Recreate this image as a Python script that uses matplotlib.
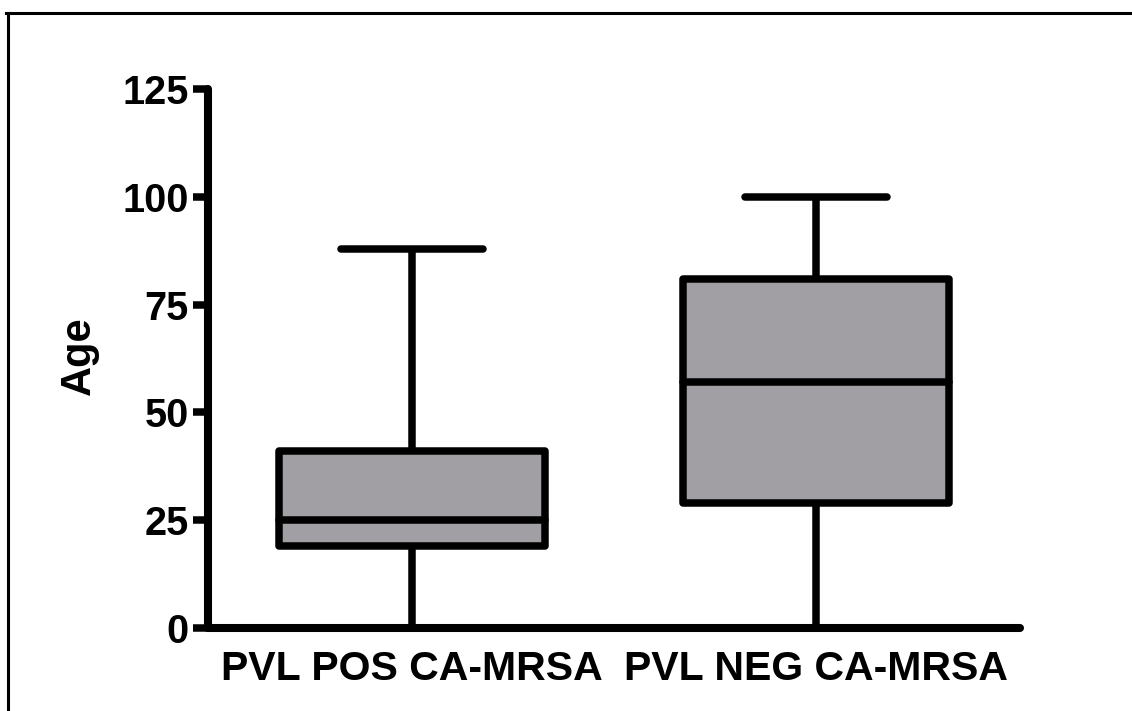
import matplotlib
matplotlib.use("Agg")
import matplotlib.pyplot as plt
from matplotlib.lines import Line2D

plt.rcParams['font.family'] = ['Liberation Sans', 'DejaVu Sans']
plt.rcParams['font.weight'] = 'bold'

# Age distribution summary for each group
groups = ["PVL POS CA-MRSA", "PVL NEG CA-MRSA"]
whisker_low = [0, 0]
q1 = [19, 29]
median = [25, 57]
q3 = [41, 81]
whisker_high = [88, 100]

y_ticks = [0, 25, 50, 75, 100, 125]

fig = plt.figure(figsize=(11.32, 7.11), dpi=100)
ax = fig.add_axes([208 / 1132, 1 - 628 / 711, (1020 - 208) / 1132, (628 - 89) / 711])

stats = []
for i, name in enumerate(groups):
    stats.append(dict(label=name, whislo=whisker_low[i], q1=q1[i], med=median[i],
                      q3=q3[i], whishi=whisker_high[i], fliers=[]))

lw = 5.4
box_fill = '#a19fa4'
bp = ax.bxp(stats, positions=[1, 2], widths=0.66, capwidths=0.35,
            patch_artist=True, showfliers=False,
            boxprops=dict(facecolor=box_fill, edgecolor='black', linewidth=lw,
                          joinstyle='round'),
            medianprops=dict(color='black', linewidth=lw, solid_capstyle='round'),
            whiskerprops=dict(color='black', linewidth=lw, solid_capstyle='butt'),
            capprops=dict(color='black', linewidth=lw, solid_capstyle='round'))
for key in ('whiskers', 'caps', 'medians', 'boxes'):
    for artist in bp[key]:
        artist.set_clip_on(False)

ax.set_xlim(0.495, 2.505)
ax.set_ylim(0, 125)
ax.set_yticks(y_ticks)
ax.set_yticklabels([str(v) for v in y_ticks])
ax.set_xticks([1, 2])
ax.set_xticklabels(groups)

for side in ('top', 'right'):
    ax.spines[side].set_visible(False)
for side in ('left', 'bottom'):
    ax.spines[side].set_linewidth(5.8)
    ax.spines[side].set_capstyle('round')

ax.tick_params(axis='y', direction='out', length=10.5, width=5.4, pad=3.5,
               labelsize=28.5)
ax.tick_params(axis='x', length=0, pad=16, labelsize=29.5)
for lab in ax.get_xticklabels() + ax.get_yticklabels():
    lab.set_fontweight('bold')

ax.set_ylabel('Age', fontsize=30, fontweight='bold')
ax.yaxis.set_label_coords(-0.134, 0.505)

# Outer frame lines along the top and left of the figure
fig.add_artist(Line2D([6 / 1132, 1.0], [1 - 12.5 / 711, 1 - 12.5 / 711],
                      transform=fig.transFigure, color='black', linewidth=2.2))
fig.add_artist(Line2D([7.5 / 1132, 7.5 / 1132], [0.0, 1 - 12.5 / 711],
                      transform=fig.transFigure, color='black', linewidth=2.2))

fig.savefig('out.png', dpi=100, facecolor='white')
